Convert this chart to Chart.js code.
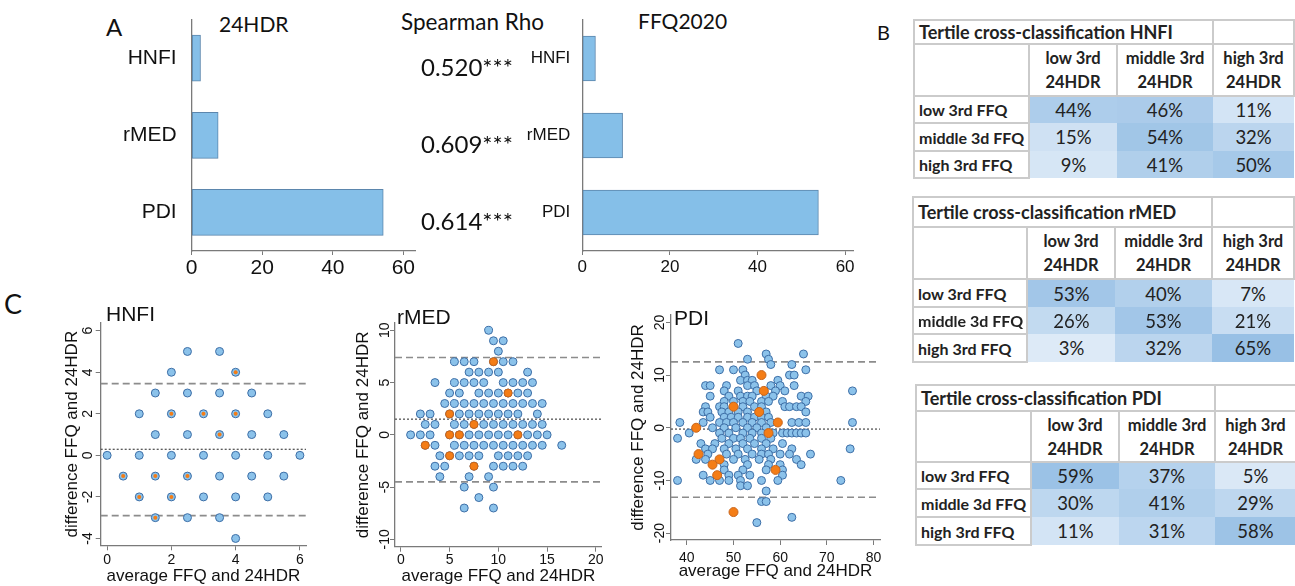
<!DOCTYPE html>
<html>
<head>
<meta charset="utf-8">
<script src="https://cdn.jsdelivr.net/npm/chart.js@4.4.1/dist/chart.umd.min.js"></script>
<style>
  body { margin: 0; background: #fff; width: 1295px; height: 586px; overflow: hidden; position: relative; }
  canvas { position: absolute; }
  .txt { position: absolute; white-space: nowrap; color: #111; }
  .calibri { font-family: Lato, "Open Sans", sans-serif; }
  .arial { font-family: "Liberation Sans", Arial, sans-serif; }
  table.tt { position: absolute; border-collapse: collapse; table-layout: fixed; font-family: Lato, sans-serif; color: #222; }
  table.tt td { border: 2px solid #cbcbcb; padding: 0 0 0 4px; overflow: hidden; white-space: nowrap; }
  table.tt td.ttl { font-weight: 700; font-size: 18px; }
  table.tt td.hd { font-weight: 700; font-size: 16.5px; text-align: center; line-height: 24px; padding: 0; }
  table.tt td.rl { font-weight: 700; font-size: 16px; }
  table.tt td.val { border: none; text-align: center; font-size: 18.5px; padding: 0; }
</style>
</head>
<body>

<div class="txt calibri" style="left:106px;top:12px;font-size:24px;">A</div>
<div class="txt calibri" style="left:877px;top:20px;font-size:20px;">B</div>
<div class="txt calibri" style="left:4px;top:287px;font-size:27px;">C</div>

<div class="txt calibri" style="left:219px;top:11px;font-size:21px;">24HDR</div>
<div class="txt calibri" id="rhoTitle" style="left:401px;top:8px;font-size:22.5px;">Spearman Rho</div>
<div class="txt calibri" style="left:638px;top:8px;font-size:21px;">FFQ2020</div>

<canvas id="barHdr" width="330" height="290" style="left:100px;top:0px;"></canvas>
<canvas id="barFfq" width="390" height="290" style="left:480px;top:0px;"></canvas>

<canvas id="scHnfi" width="280" height="286" style="left:40px;top:300px;"></canvas>
<canvas id="scRmed" width="280" height="286" style="left:330px;top:300px;"></canvas>
<canvas id="scPdi" width="280" height="286" style="left:610px;top:300px;"></canvas>

<div class="txt arial" style="left:106px;top:302px;font-size:21px;">HNFI</div>
<div class="txt arial" style="left:397px;top:305px;font-size:21px;">rMED</div>
<div class="txt arial" style="left:674px;top:306px;font-size:21px;">PDI</div>

<script>
// ---- panel A ----
const indexLabels = ['HNFI', 'rMED', 'PDI'];
const hdrValues = [2.5, 7.5, 54.3];
const ffqValues = [3.0, 9.2, 53.9];
const rhoLabels = ['0.520***', '0.609***', '0.614***'];
const barTicks = [0, 20, 40, 60];

// ---- panel B ----
const tableTitles = ['Tertile cross-classification HNFI', 'Tertile cross-classification rMED', 'Tertile cross-classification PDI'];
const colHeaders = [['low 3rd', '24HDR'], ['middle 3rd', '24HDR'], ['high 3rd', '24HDR']];
const rowLabels = ['low 3rd FFQ', 'middle 3d FFQ', 'high 3rd FFQ'];
const hnfiTertiles = [[44, 46, 11], [15, 54, 32], [9, 41, 50]];
const rmedTertiles = [[53, 40, 7], [26, 53, 21], [3, 32, 65]];
const pdiTertiles = [[59, 37, 5], [30, 41, 29], [11, 31, 58]];

// ---- panel C (average, difference) ----
const hnfiAll = [
  [2.5,5],[3.5,5],
  [2,4],[4,4],
  [1.5,3],[2.5,3],[3.5,3],[4.5,3],
  [1,2],[2,2],[3,2],[4,2],[5,2],
  [1.5,1],[2.5,1],[3.5,1],[4.5,1],[5.5,1],
  [0,0],[1,0],[2,0],[3,0],[4,0],[5,0],[6,0],
  [0.5,-1],[1.5,-1],[2.5,-1],[3.5,-1],[4.5,-1],[5.5,-1],
  [1,-2],[2,-2],[3,-2],[4,-2],[5,-2],
  [1.5,-3],[2.5,-3],[3.5,-3],
  [4,-4]
];
const hnfiSub = [[4,4],[2,2],[3,2],[4,2],[3.5,1],[0.5,-1],[1.5,-1],[2.5,-1],[1,-2],[2,-2],[1.5,-3]];
const hnfiLimits = [3.45, 0.29, -2.9];

const rmedAll = [
  [9,10],
  [9.5,9],[10.5,9],
  [10,8],
  [5.5,7],[6.5,7],[7.5,7],[9.5,7],[10.5,7],[11.5,7],
  [7,6],[8,6],[9,6],[10,6],[13,6],
  [3.5,5],[5.5,5],[6.5,5],[7.5,5],[8.5,5],[10.5,5],[11.5,5],[12.5,5],[13.5,5],
  [5,4],[6,4],[8,4],[9,4],[10,4],[11,4],[12,4],[13,4],
  [4.5,3],[5.5,3],[6.5,3],[7.5,3],[8.5,3],[9.5,3],[10.5,3],[11.5,3],[12.5,3],[13.5,3],[14.5,3],
  [2,2],[3,2],[5,2],[6,2],[7,2],[8,2],[9,2],[10,2],[11,2],[12,2],[14,2],
  [2.5,1],[3.5,1],[5.5,1],[6.5,1],[7.5,1],[8.5,1],[9.5,1],[10.5,1],[11.5,1],[12.5,1],[13.5,1],[14.5,1],
  [1,0],[2,0],[3,0],[5,0],[6,0],[7,0],[8,0],[9,0],[10,0],[11,0],[12,0],[13,0],[14,0],[15,0],
  [2.5,-1],[3.5,-1],[5.5,-1],[6.5,-1],[7.5,-1],[8.5,-1],[9.5,-1],[10.5,-1],[11.5,-1],[12.5,-1],[13.5,-1],[14.5,-1],[16.5,-1],
  [4,-2],[5,-2],[6,-2],[7,-2],[8,-2],[10,-2],[11,-2],[12,-2],[13,-2],
  [3.5,-3],[4.5,-3],[7.5,-3],[9.5,-3],[10.5,-3],[11.5,-3],[12.5,-3],
  [4,-4],[7,-4],[9,-4],
  [6.5,-5],[9.5,-5],
  [8,-6],
  [6.5,-7],[9.5,-7]
];
const rmedSub = [[9.5,7],[11,4],[5,2],[7.5,1],[5,0],[6,0],[12,0],[2.5,-1],[5,-2],[7.5,-3]];
const rmedLimits = [7.4, 1.5, -4.5];

const pdiAll = [
  [51,16],
  [57,14],[65,14],
  [53,13],[57.5,13],
  [58,12],[62.5,12],
  [47,11],[50,11],[52,11],[65.5,11],
  [52.5,10],[62,10],[63,10],
  [51.5,9],[53,9],[54,9],[59.5,9],
  [44,8],[45,8],[48.5,8],[53,8],[54.5,8],[58,8],[60,8],[63,8],
  [48,7],[51,7],[55,7],[59,7],[61,7],[75.5,7],
  [45,6],[49,6],[51.5,6],[53,6],[54,6],[57,6],[58.5,6],[64.5,6],[66,6],
  [48,5],[50,5],[52,5],[53.5,5],[56,5],[57.5,5],[60.5,5],[65.5,5],
  [44,4],[47,4],[48,4],[52,4],[54.5,4],[56,4],[61,4],[62,4],[63.5,4],[64.5,4],
  [43.5,3],[44.5,3],[47.5,3],[49,3],[51,3],[53,3],[57,3],[65.5,3],
  [45,2],[48,2],[49.5,2],[51,2],[53,2],[54.5,2],[56,2],[57.5,2],
  [38.5,1],[43.5,1],[47,1],[48.5,1],[50,1],[52,1],[54,1],[56,1],[58,1],[62.5,1],[64,1],[65.5,1],[75.5,1],
  [45.5,0],[48,0],[50.5,0],[53,0],[55,0],[57,0],
  [40.5,-1],[47,-1],[49,-1],[52,-1],[54,-1],[56,-1],[58.5,-1],[60.5,-1],[61.5,-1],[62.5,-1],[63.5,-1],[64.5,-1],[65.5,-1],
  [38,-2],[47.5,-2],[50,-2],[51.5,-2],[53.5,-2],[56,-2],[58,-2],
  [43,-3],[46,-3],[49,-3],[52,-3],[54.5,-3],[57,-3],[60.5,-3],
  [44,-4],[45.5,-4],[48,-4],[50.5,-4],[53,-4],[56,-4],[58.5,-4],[62.5,-4],[75,-4],
  [44.5,-5],[48.5,-5],[51,-5],[54,-5],[56,-5],[57.5,-5],[60,-5],[62,-5],[66.5,-5],
  [42,-6],[44,-6],[50,-6],[52.5,-6],[55.5,-6],[58,-6],[63.5,-6],
  [48,-7],[53,-7],[57.5,-7],[60,-7],[64.5,-7],
  [48,-8],[52,-8],[57,-8],[60.5,-8],
  [43.5,-9],[49,-9],[51,-9],[53.5,-9],[60.5,-9],
  [38,-10],[45,-10],[47,-10],[49,-10],[51.5,-10],[56,-10],[59.5,-10],[73,-10],
  [51.5,-11],[53,-11],
  [57,-12],
  [56,-14],[57,-14],
  [62.5,-17],
  [55,-18]
];
const pdiSub = [[56,10],[56.5,7],[50,4],[55.5,3],[59.5,1],[42,0],[57.5,-1],[42.5,-5],[47,-6],[45.5,-7],[59,-8],[46.5,-9],[50,-16]];
const pdiLimits = [12.5, -0.25, -13.2];

const blueFill = '#8bc2ea';
const blueLine = '#3d6ea6';
const orangeFill = '#f47d16';
const orangeLine = '#c8641a';
const axisGray = '#7a7a7a';
const armFont = '"Liberation Sans", Arial, sans-serif';

// ---------- bar charts ----------
const paintBars = (id, values, opt) => {
  return new Chart(document.getElementById(id).getContext('2d'), {
    type: 'bar',
    data: {
      labels: indexLabels,
      datasets: [{
        data: values,
        backgroundColor: '#85bfe8',
        borderColor: '#5b86ad',
        borderWidth: 1,
        borderSkipped: false,
        barThickness: opt.thick
      }]
    },
    options: {
      indexAxis: 'y',
      responsive: false,
      animation: false,
      layout: { padding: { top: opt.top, right: opt.right, left: 0, bottom: 0 } },
      plugins: { legend: { display: false }, tooltip: { enabled: false } },
      scales: {
        x: {
          min: 0, max: opt.max,
          afterBuildTicks: (s) => { s.ticks = barTicks.map((v) => ({ value: v })); },
          afterFit: (s) => { s.height = opt.xh; },
          grid: { drawOnChartArea: false, tickLength: 4, color: axisGray },
          border: { color: axisGray, width: 1.3 },
          ticks: { font: { family: armFont, size: opt.font }, color: '#111', padding: opt.tickPad, maxRotation: 0 }
        },
        y: {
          afterFit: (s) => { s.width = opt.yw; },
          grid: { display: false },
          border: { color: axisGray, width: 1.3 },
          ticks: { font: { family: armFont, size: opt.font }, color: '#111', padding: opt.labelPad }
        }
      }
    }
  });
};

paintBars('barHdr', hdrValues, { thick: 46, top: 16, right: 15, max: 63.3, xh: 39, yw: 91.7, font: 21, tickPad: 1, labelPad: 7 });
const ffqChart = paintBars('barFfq', ffqValues, { thick: 45, top: 20, right: 17, max: 61.8, xh: 39, yw: 102.3, font: 17, tickPad: 2, labelPad: 4 });

// Spearman rho values next to bars
rhoLabels.forEach((t, i) => {
  const d = document.createElement('div');
  d.className = 'txt calibri';
  d.style.fontSize = '24px';
  d.style.left = '421px';
  d.style.top = (ffqChart.scales.y.getPixelForValue(i) - 7) + 'px';
  d.textContent = t;
  document.body.appendChild(d);
});

// ---------- tables ----------
const cellColor = (v) => {
  const t = Math.min(v / 62, 1);
  const a = [224, 236, 248], b = [152, 192, 229];
  return 'rgb(' + a.map((c, k) => Math.round(c + (b[k] - c) * t)).join(',') + ')';
};
const buildTable = (title, values, left, top, widths, heights) => {
  const tb = document.createElement('table');
  tb.className = 'tt';
  tb.style.left = left + 'px';
  tb.style.top = top + 'px';
  tb.style.width = widths.reduce((a, b) => a + b, 0) + 'px';
  let html = '<colgroup>' + widths.map((w) => '<col style="width:' + w + 'px">').join('') + '</colgroup>';
  html += '<tr style="height:' + heights[0] + 'px"><td class="ttl" colspan="3">' + title + '</td><td></td></tr>';
  html += '<tr style="height:' + heights[1] + 'px"><td></td>' + colHeaders.map((h) => '<td class="hd">' + h[0] + '<br>' + h[1] + '</td>').join('') + '</tr>';
  values.forEach((row, r) => {
    html += '<tr style="height:' + heights[r + 2] + 'px"><td class="rl">' + rowLabels[r] + '</td>' +
      row.map((v) => '<td class="val" style="background:' + cellColor(v) + '">' + v + '%</td>').join('') + '</tr>';
  });
  tb.innerHTML = html;
  document.body.appendChild(tb);
};
buildTable(tableTitles[0], hnfiTertiles, 913, 19, [115, 88, 96, 81], [24, 52, 27, 28, 27]);
buildTable(tableTitles[1], rmedTertiles, 912, 196, [114, 88, 97, 82], [30, 52, 28, 27, 28]);
buildTable(tableTitles[2], pdiTertiles, 915, 384, [115, 88, 96, 81], [26, 51, 27, 28, 28]);

// ---------- Bland-Altman scatter plots ----------
const rotatedYTicks = {
  id: 'rotatedYTicks',
  afterDraw(chart, args, opts) {
    const y = chart.scales.y;
    const ctx = chart.ctx;
    ctx.save();
    ctx.font = '14px ' + armFont;
    ctx.fillStyle = '#111';
    ctx.textAlign = 'center';
    ctx.textBaseline = 'middle';
    y.ticks.forEach((t) => {
      ctx.save();
      ctx.translate(y.right - opts.gap, y.getPixelForValue(t.value));
      ctx.rotate(-Math.PI / 2);
      ctx.fillText(String(t.value), 0, 0);
      ctx.restore();
    });
    ctx.restore();
  }
};

const toPts = (arr) => arr.map((p) => ({ x: p[0], y: p[1] }));
const limitLine = (v, xr, dotted) => ({
  data: [{ x: xr[0], y: v }, { x: xr[1], y: v }],
  showLine: true,
  pointRadius: 0,
  borderColor: dotted ? '#555' : '#8c8c8c',
  borderWidth: dotted ? 1.3 : 1.6,
  borderDash: dotted ? [2, 2] : [7, 4],
  order: 3
});

const paintScatter = (id, all, sub, limits, c) => {
  new Chart(document.getElementById(id).getContext('2d'), {
    type: 'scatter',
    data: {
      datasets: [
        { data: toPts(all), backgroundColor: blueFill, borderColor: blueLine, borderWidth: 1, pointRadius: 4, order: 2 },
        { data: toPts(sub), backgroundColor: orangeFill, borderColor: c.subBorder ? orangeLine : orangeFill, borderWidth: c.subBorder ? 1 : 0, pointRadius: c.subR, order: 1 },
        limitLine(limits[0], c.xr, false),
        limitLine(limits[1], c.xr, true),
        limitLine(limits[2], c.xr, false)
      ]
    },
    options: {
      responsive: false,
      animation: false,
      layout: { padding: { top: c.padTop, right: c.padRight, left: 0, bottom: 0 } },
      plugins: { legend: { display: false }, tooltip: { enabled: false }, rotatedYTicks: { gap: c.yGap } },
      scales: {
        x: {
          type: 'linear', min: c.xr[0], max: c.xr[1],
          afterBuildTicks: (s) => { s.ticks = c.xTicks.map((v) => ({ value: v })); },
          afterFit: (s) => { s.height = c.xh; },
          grid: { drawOnChartArea: false, tickLength: 5, color: axisGray },
          border: { color: axisGray, width: 1.3 },
          ticks: { font: { family: armFont, size: 14 }, color: '#111', padding: c.xPad, maxRotation: 0 },
          title: { display: true, text: 'average FFQ and 24HDR', font: { family: armFont, size: 17, lineHeight: 1 }, color: '#111', padding: { top: 0, bottom: c.xTitlePad } }
        },
        y: {
          type: 'linear', min: c.yr[0], max: c.yr[1],
          afterBuildTicks: (s) => { s.ticks = c.yTicks.map((v) => ({ value: v })); },
          afterFit: (s) => { s.width = c.yw; },
          grid: { drawOnChartArea: false, tickLength: 5, color: axisGray },
          border: { color: axisGray, width: 1.3 },
          ticks: { display: false },
          title: { display: true, text: 'difference FFQ and 24HDR', font: { family: armFont, size: 17, lineHeight: 1 }, color: '#111', padding: { top: c.yTitlePad, bottom: 0 } }
        }
      }
    },
    plugins: [rotatedYTicks]
  });
};

paintScatter('scHnfi', hnfiAll, hnfiSub, hnfiLimits, {
  xr: [-0.2, 6.19], yr: [-4.33, 6.37], xTicks: [0, 2, 4, 6], yTicks: [-4, -2, 0, 2, 4, 6],
  padTop: 23, padRight: 14, xh: 40.7, yw: 60.7, yGap: 12.7, xPad: 1, xTitlePad: 0.8, yTitlePad: 23.5, subR: 2, subBorder: false
});
paintScatter('scRmed', rmedAll, rmedSub, rmedLimits, {
  xr: [-0.6, 20.6], yr: [-10.7, 10.7], xTicks: [0, 5, 10, 15, 20], yTicks: [-10, -5, 0, 5, 10],
  padTop: 23, padRight: 8.3, xh: 39.3, yw: 65, yGap: 10, xPad: 0, xTitlePad: 0.8, yTitlePad: 24.8, subR: 4, subBorder: true
});
paintScatter('scPdi', pdiAll, pdiSub, pdiLimits, {
  xr: [36.6, 81.4], yr: [-21.3, 21.4], xTicks: [40, 50, 60, 70, 80], yTicks: [-20, -10, 0, 10, 20],
  padTop: 15, padRight: 10, xh: 46, yw: 61, yGap: 11, xPad: 5, xTitlePad: 5.8, yTitlePad: 19.8, subR: 4.5, subBorder: true
});
</script>
</body>
</html>
